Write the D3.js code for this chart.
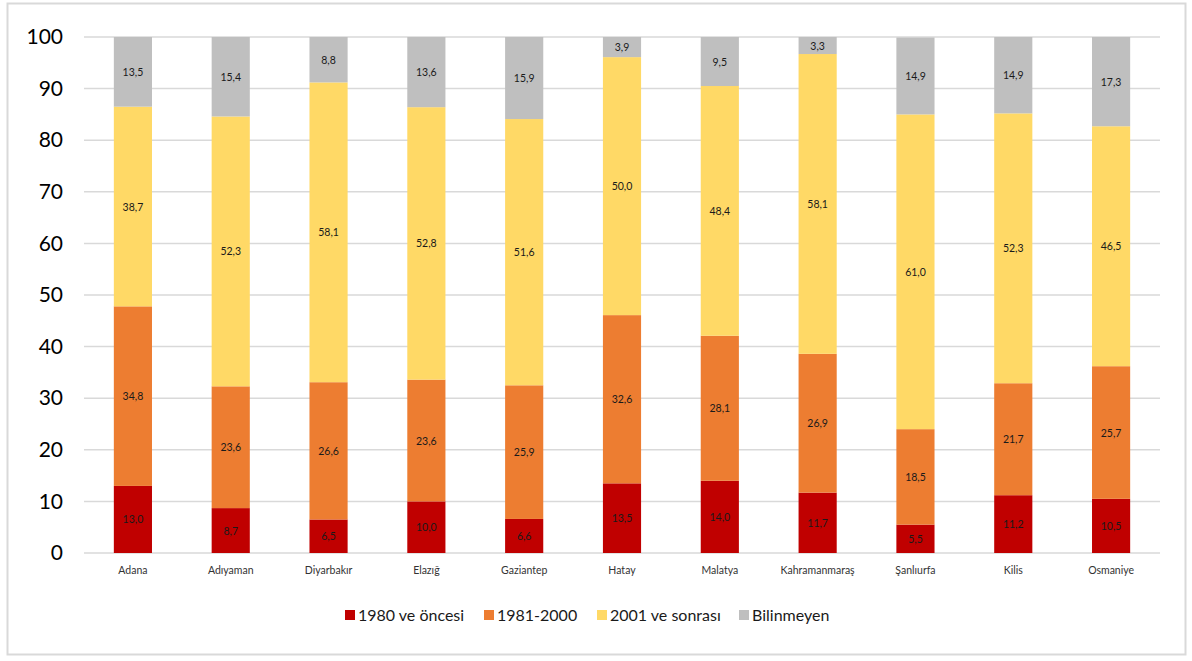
<!DOCTYPE html>
<html><head><meta charset="utf-8">
<script src="https://cdn.jsdelivr.net/npm/d3@7"></script>
<style>
body{margin:0;background:#fff;}
svg{display:block;font-family:Lato,"Open Sans",sans-serif;}
</style></head>
<body>
<svg id="chart" width="1192" height="661"></svg>
<script>
const categories = ["Adana","Adıyaman","Diyarbakır","Elazığ","Gaziantep","Hatay","Malatya","Kahramanmaraş","Şanlıurfa","Kilis","Osmaniye"];
const seriesNames = ["1980 ve öncesi","1981-2000","2001 ve sonrası","Bilinmeyen"];
const s1980 = [13.0,8.7,6.5,10.0,6.6,13.5,14.0,11.7,5.5,11.2,10.5];
const s1981 = [34.8,23.6,26.6,23.6,25.9,32.6,28.1,26.9,18.5,21.7,25.7];
const s2001 = [38.7,52.3,58.1,52.8,51.6,50.0,48.4,58.1,61.0,52.3,46.5];
const sUnknown = [13.5,15.4,8.8,13.6,15.9,3.9,9.5,3.3,14.9,14.9,17.3];
const yTicks = [0,10,20,30,40,50,60,70,80,90,100];
const colors = ["#c00000","#ed7d31","#ffd966","#bfbfbf"];

const svg = d3.select("#chart");
svg.append("rect").attr("x",7.5).attr("y",3.5).attr("width",1178).attr("height",651)
  .attr("fill","#fff").attr("stroke","#d9d9d9").attr("stroke-width",2);

const x = d3.scaleBand().domain(categories).range([84,1160]).paddingInner(0.61).paddingOuter(0.305);
const y = d3.scaleLinear().domain([0,100]).range([553,37]);

const g = svg.append("g");
g.selectAll(".grid").data(yTicks).join("line")
  .attr("x1",84).attr("x2",1160).attr("y1",d=>y(d)).attr("y2",d=>y(d))
  .attr("stroke","#d9d9d9").attr("stroke-width",1.5);

const yAxis = d3.axisLeft(y).tickValues(yTicks).tickSize(0).tickPadding(21);
const ya = svg.append("g").attr("transform","translate(84,0)").call(yAxis);
ya.select(".domain").remove();
ya.selectAll("text").attr("font-size",21).attr("fill","#000").attr("font-family","Lato,sans-serif");

const rows = categories.map((c,i)=>({cat:c,v:[s1980[i],s1981[i],s2001[i],sUnknown[i]]}));
const table = rows.map(r=>{const o={cat:r.cat}; seriesNames.forEach((s,j)=>o[s]=r.v[j]); return o;});
const stack = d3.stack().keys(seriesNames)(table);

stack.forEach((layer,j)=>{
  const lg = svg.append("g");
  lg.selectAll("rect").data(layer).join("rect")
    .attr("x",d=>x(d.data.cat)).attr("width",x.bandwidth())
    .attr("y",d=>y(Math.min(d[1],100))).attr("height",d=>y(d[0])-y(Math.min(d[1],100)))
    .attr("fill",colors[j]);
  lg.selectAll("text").data(layer).join("text")
    .attr("x",d=>x(d.data.cat)+x.bandwidth()/2)
    .attr("y",d=>(y(d[0])+y(Math.min(d[1],100)))/2+4)
    .attr("text-anchor","middle").attr("font-size",10.5).attr("fill","#1a1a1a")
    .text(d=>(d[1]-d[0]).toFixed(1).replace(".",","));
});

const xa = svg.append("g").attr("transform","translate(0,553)").call(d3.axisBottom(x).tickSize(0).tickPadding(14));
xa.select(".domain").remove();
xa.selectAll("text").attr("font-size",10.5).attr("fill","#333").attr("font-family","Lato,sans-serif");

const legX = [345,484,597,739];
const leg = svg.append("g");
seriesNames.forEach((s,j)=>{
  leg.append("rect").attr("x",legX[j]).attr("y",610).attr("width",10).attr("height",10).attr("fill",colors[j]);
  leg.append("text").attr("x",legX[j]+13).attr("y",621).attr("font-size",16).attr("fill","#1a1a1a").text(s);
});
</script>
</body></html>
